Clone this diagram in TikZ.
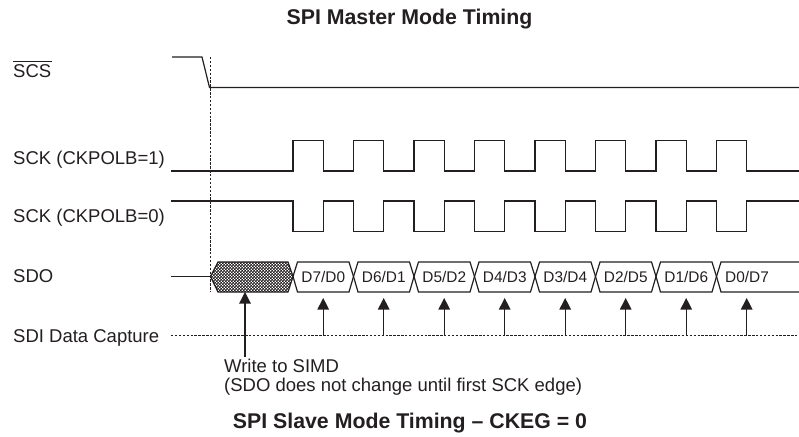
\documentclass[tikz,border=0pt]{standalone}
\usepackage{fontspec}
\setmainfont{Liberation Sans}
\usetikzlibrary{arrows.meta,patterns}
\pgfdeclarepatternformonly{chk}{\pgfqpoint{0pt}{0pt}}{\pgfqpoint{3.4pt}{3.4pt}}{\pgfqpoint{3.4pt}{3.4pt}}{
  \pgfpathrectangle{\pgfqpoint{0pt}{0pt}}{\pgfqpoint{1.9pt}{1.9pt}}
  \pgfpathrectangle{\pgfqpoint{1.7pt}{1.7pt}}{\pgfqpoint{1.9pt}{1.9pt}}
  \pgfusepath{fill}}
\definecolor{ink}{HTML}{231F20}
\tikzset{
  wave/.style={draw=ink,line width=1.2pt,line join=miter},
  guide/.style={draw=ink,line width=1.1pt,dash pattern=on 2.4pt off 1.5pt},
  probe/.style={draw=ink,line width=1.1pt,-{Triangle[length=11.5pt,width=11.5pt]}},
  lbl/.style={text=ink,font=\fontsize{18.5}{22}\selectfont,inner sep=0pt,anchor=base west},
  dlbl/.style={text=ink,font=\fontsize{15.4}{18}\selectfont,inner sep=0pt,anchor=base},
  ttl/.style={text=ink,font=\fontsize{21.3}{25}\selectfont\bfseries,inner sep=0pt,anchor=base}
}
\begin{document}
\begin{tikzpicture}[x=1pt,y=-1pt]
\useasboundingbox (0,0) rectangle (799,436);
\node[ttl] (title) at (409.5,25) {SPI Master Mode Timing};
\node[ttl] (title2) at (410,428) {SPI Slave Mode Timing – CKEG = 0};
\node[lbl] (lscs) at (13,77.5) {SCS};
\coordinate (ol) at (13,61.7); \coordinate (or) at (51.5,61.7);
\draw[draw=ink,line width=0.9pt] (ol) -- (or);
\node[lbl] (lsck1) at (13,164) {SCK (CKPOLB=1)};
\node[lbl] (lsck0) at (13,222.7) {SCK (CKPOLB=0)};
\node[lbl] (lsdo) at (13,282.7) {SDO};
\node[lbl] (lsdi) at (13,342.7) {SDI Data Capture};
\node[lbl] (w1) at (224,372.7) {Write to SIMD};
\node[lbl] (w2) at (224,391.7) {(SDO does not change until first SCK edge)};
% guides
\coordinate (gt) at (210.2,57); \coordinate (gb) at (210.2,292);
\coordinate (cl) at (171,335.5); \coordinate (cr) at (799,335.5);
\draw[guide] (gt) -- (gb);
\draw[guide] (cl) -- (cr);
% SCS
\draw[wave] (172,57) -- (202,57) -- (209.5,87.5) -- (799,87.5);
% SCK polarity 1
\draw[wave] (171,171)
 \foreach \k in {0,...,7} { -- ({293+60.5*\k},171) -- ({293+60.5*\k},140.5) -- ({323.2+60.5*\k},140.5) -- ({323.2+60.5*\k},171) }
 -- (799,171);
% SCK polarity 0
\draw[wave] (171,201)
 \foreach \k in {0,...,7} { -- ({293+60.5*\k},201) -- ({293+60.5*\k},231.5) -- ({323.2+60.5*\k},231.5) -- ({323.2+60.5*\k},201) }
 -- (799,201);
% SDO
\draw[wave] (171,276.5) -- (211,276.5);
\draw[wave,pattern=chk,pattern color=ink] (210.5,276.5) -- (218,262) -- (288,262) -- (293,276.5) -- (288,292) -- (218,292) -- cycle;
\foreach \k/\t in {0/D7\slash D0,1/D6\slash D1,2/D5\slash D2,3/D4\slash D3,4/D3\slash D4,5/D2\slash D5,6/D1\slash D6}{
  \pgfmathsetmacro{\a}{293+60.5*\k}
  \pgfmathsetmacro{\b}{\a+60.5}
  \draw[wave] (\a,276.5) -- ({\a+4.5},262) -- ({\b-4.5},262) -- (\b,276.5) -- ({\b-4.5},292) -- ({\a+4.5},292) -- cycle;
  \node[dlbl] (d\k) at ({(\a+\b)/2},282.3) {\t};
}
\draw[wave] (799,262) -- (721,262) -- (716.5,276.5) -- (721,292) -- (799,292);
\node[dlbl,anchor=base west] (d7) at (725,282.3) {D0/D7};
% arrows
\foreach \k in {0,...,7}{
  \coordinate (pb\k) at ({323.2+60.5*\k},335.5);
  \coordinate (pt\k) at ({323.2+60.5*\k},298);
  \draw[probe] (pb\k) -- (pt\k);
}
\coordinate (wb) at (245,357); \coordinate (wt) at (245,292);
\draw[probe] (wb) -- (wt);
\end{tikzpicture}
\end{document}
